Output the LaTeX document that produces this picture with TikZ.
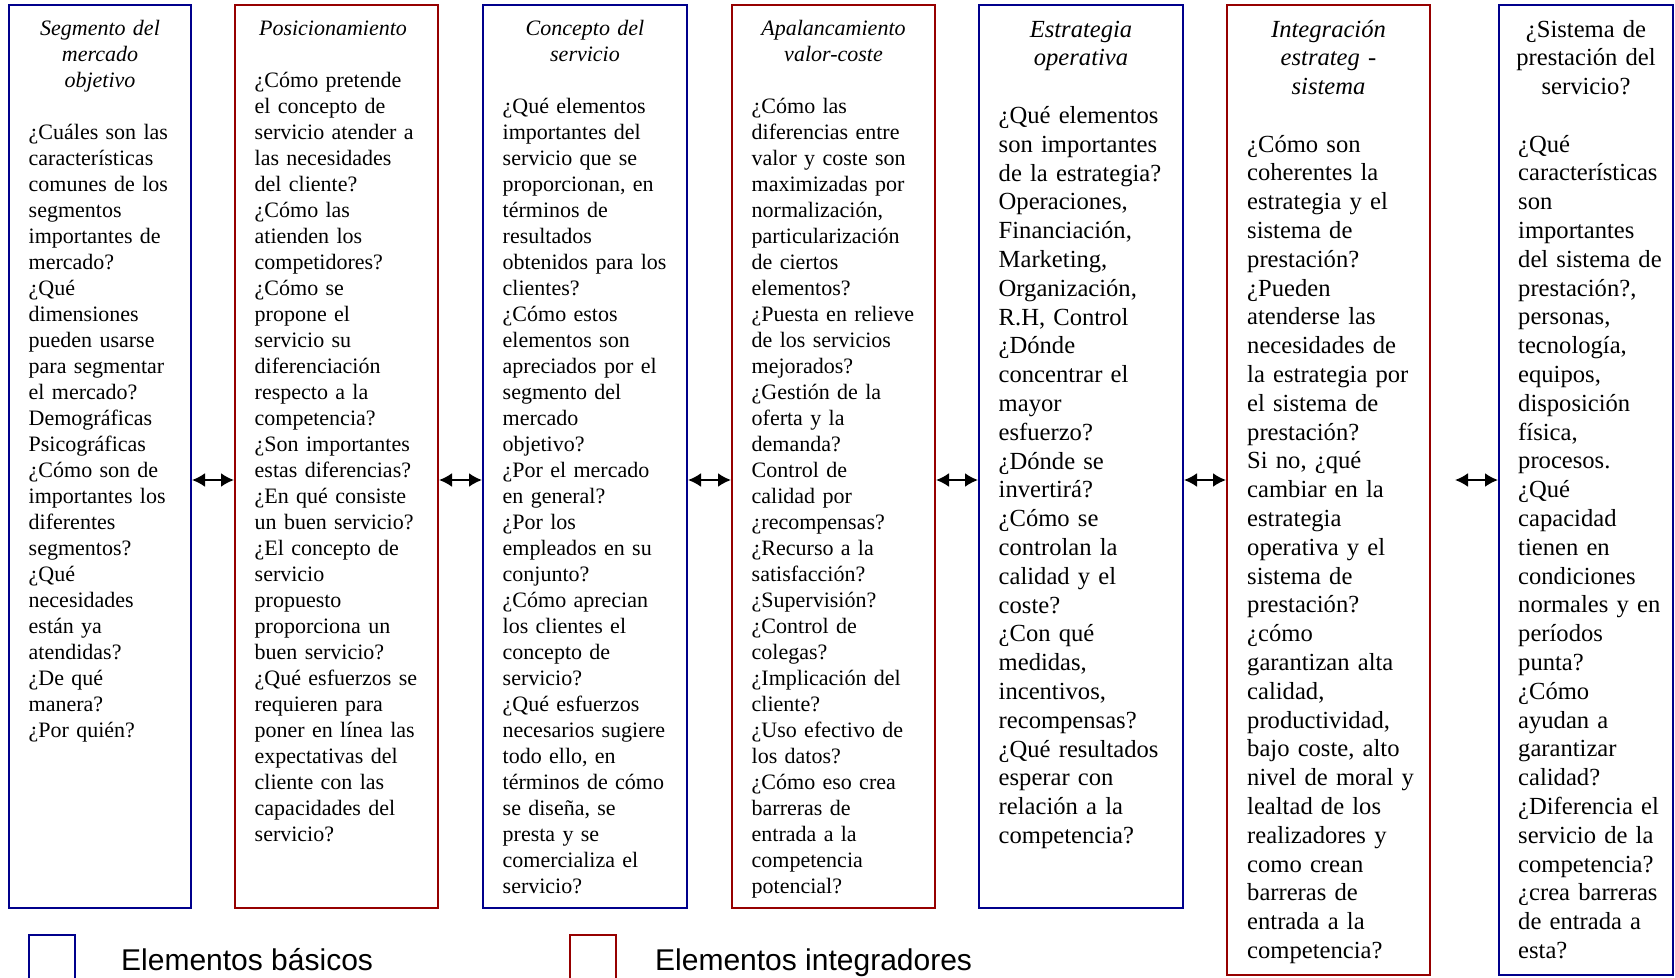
\documentclass[tikz,border=0pt]{standalone}
\usepackage{fontspec}
\setmainfont{Liberation Serif}
\newfontfamily\legfont{Liberation Sans}
\usetikzlibrary{arrows.meta}
\definecolor{bblue}{RGB}{0,0,140}
\definecolor{bred}{RGB}{150,0,0}
\begin{document}
\begin{tikzpicture}[x=1pt,y=-1pt,
  boxb/.style={draw=bblue, line width=2pt, inner sep=0pt},
  boxr/.style={draw=bred, line width=2pt, inner sep=0pt},
  fsmall/.style={font=\fontsize{22}{26}\selectfont},
  fbig/.style={font=\fontsize{24.6}{28.8}\selectfont},
  ttl/.style={anchor=base, inner sep=0pt, align=center},
  body/.style={anchor=base west, inner sep=0pt, text width=300pt, align=left},
  dbl/.style={{Latex[length=13pt,width=14pt]}-{Latex[length=13pt,width=14pt]}, line width=2pt, black},
  legbox/.style={line width=2pt, inner sep=0pt, minimum width=46pt, minimum height=70pt, anchor=north west},
  legtxt/.style={anchor=base west, inner sep=0pt, font=\legfont\fontsize{30}{36}\selectfont}
]
\useasboundingbox (0,0) rectangle (1675,977);
\clip (0,0) rectangle (1675,977);

% boxes
\node[boxb, minimum width=182pt, minimum height=903pt] (b1) at (100,456.5) {};
\node[boxr, minimum width=203pt, minimum height=903pt] (b2) at (336.5,456.5) {};
\node[boxb, minimum width=204pt, minimum height=903pt] (b3) at (585,456.5) {};
\node[boxr, minimum width=203pt, minimum height=903pt] (b4) at (833.5,456.5) {};
\node[boxb, minimum width=204pt, minimum height=903pt] (b5) at (1081,456.5) {};
\node[boxr, minimum width=203pt, minimum height=970pt] (b6) at (1328.5,490) {};
\node[boxb, minimum width=174pt, minimum height=970pt] (b7) at (1586,490) {};

% titles
\node[ttl, text width=170pt, font=\fontsize{22}{26}\selectfont\itshape] (h1) at (100,35) {Segmento del\\mercado\\objetivo};
\node[ttl, text width=190pt, font=\fontsize{22}{26}\selectfont\itshape] (h2) at (333,35) {Posicionamiento};
\node[ttl, text width=190pt, font=\fontsize{22}{26}\selectfont\itshape] (h3) at (585,35) {Concepto del\\servicio};
\node[ttl, text width=190pt, font=\fontsize{22}{26}\selectfont\itshape] (h4) at (833.5,35) {Apalancamiento\\valor-coste};
\node[ttl, text width=190pt, font=\fontsize{24.6}{28.8}\selectfont\itshape] (h5) at (1081,37) {Estrategia\\operativa};
\node[ttl, text width=190pt, font=\fontsize{24.6}{28.8}\selectfont\itshape] (h6) at (1328.5,37) {Integración\\estrateg -\\sistema};
\node[ttl, text width=170pt, font=\fontsize{24.6}{28.8}\selectfont] (h7) at (1586,37) {¿Sistema de\\prestación del\\servicio?};

% bodies
\node[body, fsmall] (t1) at (28.5,139) {¿Cuáles son las\\características\\comunes de los\\segmentos\\importantes de\\mercado?\\¿Qué\\dimensiones\\pueden usarse\\para segmentar\\el mercado?\\Demográficas\\Psicográficas\\¿Cómo son de\\importantes los\\diferentes\\segmentos?\\¿Qué\\necesidades\\están ya\\atendidas?\\¿De qué\\manera?\\¿Por quién?};

\node[body, fsmall] (t2) at (254.5,87) {¿Cómo pretende\\el concepto de\\servicio atender a\\las necesidades\\del cliente?\\¿Cómo las\\atienden los\\competidores?\\¿Cómo se\\propone el\\servicio su\\diferenciación\\respecto a la\\competencia?\\¿Son importantes\\estas diferencias?\\¿En qué consiste\\un buen servicio?\\¿El concepto de\\servicio\\propuesto\\proporciona un\\buen servicio?\\¿Qué esfuerzos se\\requieren para\\poner en línea las\\expectativas del\\cliente con las\\capacidades del\\servicio?};

\node[body, fsmall] (t3) at (502.5,113) {¿Qué elementos\\importantes del\\servicio que se\\proporcionan, en\\términos de\\resultados\\obtenidos para los\\clientes?\\¿Cómo estos\\elementos son\\apreciados por el\\segmento del\\mercado\\objetivo?\\¿Por el mercado\\en general?\\¿Por los\\empleados en su\\conjunto?\\¿Cómo aprecian\\los clientes el\\concepto de\\servicio?\\¿Qué esfuerzos\\necesarios sugiere\\todo ello, en\\términos de cómo\\se diseña, se\\presta y se\\comercializa el\\servicio?};

\node[body, fsmall] (t4) at (751.5,113) {¿Cómo las\\diferencias entre\\valor y coste son\\maximizadas por\\normalización,\\particularización\\de ciertos\\elementos?\\¿Puesta en relieve\\de los servicios\\mejorados?\\¿Gestión de la\\oferta y la\\demanda?\\Control de\\calidad por\\¿recompensas?\\¿Recurso a la\\satisfacción?\\¿Supervisión?\\¿Control de\\colegas?\\¿Implicación del\\cliente?\\¿Uso efectivo de\\los datos?\\¿Cómo eso crea\\barreras de\\entrada a la\\competencia\\potencial?};

\node[body, fbig] (t5) at (998.5,123.4) {¿Qué elementos\\son importantes\\de la estrategia?\\Operaciones,\\Financiación,\\Marketing,\\Organización,\\R.H, Control\\¿Dónde\\concentrar el\\mayor\\esfuerzo?\\¿Dónde se\\invertirá?\\¿Cómo se\\controlan la\\calidad y el\\coste?\\¿Con qué\\medidas,\\incentivos,\\recompensas?\\¿Qué resultados\\esperar con\\relación a la\\competencia?};

\node[body, fbig] (t6) at (1247,152) {¿Cómo son\\coherentes la\\estrategia y el\\sistema de\\prestación?\\¿Pueden\\atenderse las\\necesidades de\\la estrategia por\\el sistema de\\prestación?\\Si no, ¿qué\\cambiar en la\\estrategia\\operativa y el\\sistema de\\prestación?\\¿cómo\\garantizan alta\\calidad,\\productividad,\\bajo coste, alto\\nivel de moral y\\lealtad de los\\realizadores y\\como crean\\barreras de\\entrada a la\\competencia?};

\node[body, fbig] (t7) at (1518,152) {¿Qué\\características\\son\\importantes\\del sistema de\\prestación?,\\personas,\\tecnología,\\equipos,\\disposición\\física,\\procesos.\\¿Qué\\capacidad\\tienen en\\condiciones\\normales y en\\períodos\\punta?\\¿Cómo\\ayudan a\\garantizar\\calidad?\\¿Diferencia el\\servicio de la\\competencia?\\¿crea barreras\\de entrada a\\esta?};

% connectors
\coordinate (ay) at (0,480);
\coordinate (a7) at (1455,480);
\draw[dbl] (b1.east |- ay) -- (b2.west |- ay);
\draw[dbl] (b2.east |- ay) -- (b3.west |- ay);
\draw[dbl] (b3.east |- ay) -- (b4.west |- ay);
\draw[dbl] (b4.east |- ay) -- (b5.west |- ay);
\draw[dbl] (b5.east |- ay) -- (b6.west |- ay);
\draw[dbl] (a7) -- (b7.west |- ay);

% legend
\node[legbox, draw=bblue] (s1) at (28,934) {};
\node[legtxt] (l1) at (121,970) {Elementos básicos};
\node[legbox, draw=bred] (s2) at (569,934) {};
\node[legtxt] (l2) at (655,970) {Elementos integradores};
\end{tikzpicture}
\end{document}
